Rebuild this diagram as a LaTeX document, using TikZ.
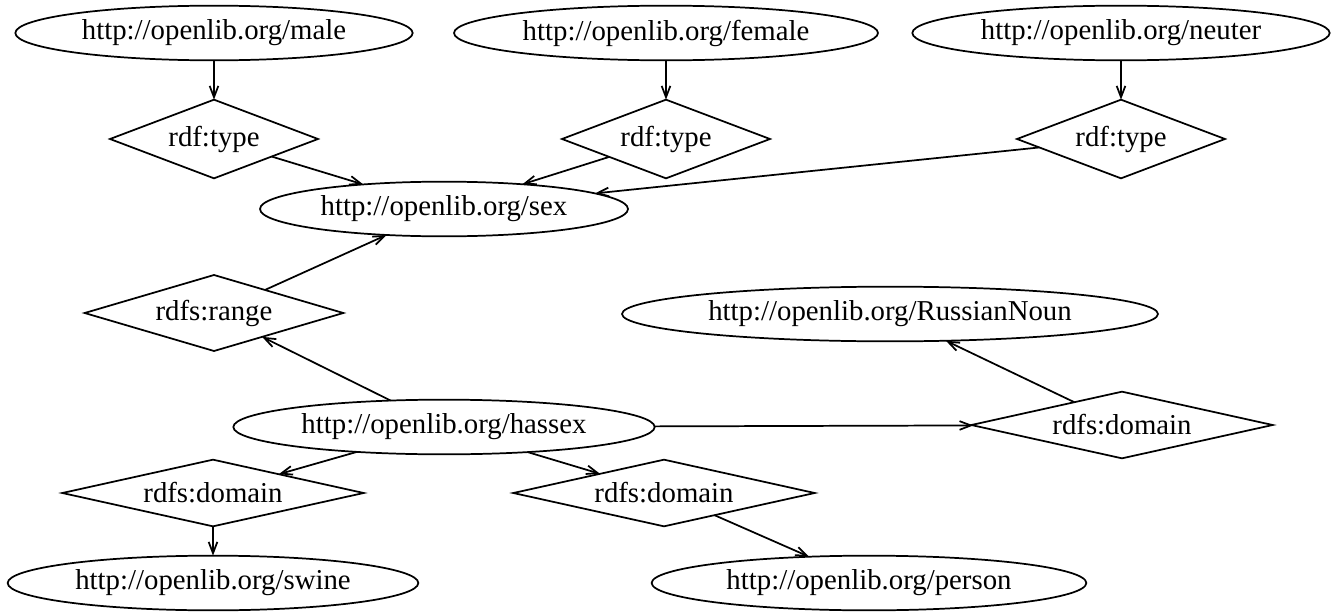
\documentclass[tikz,border=0pt]{standalone}
\usepackage{fontspec}
\setmainfont{Liberation Serif}
\usetikzlibrary{shapes.geometric,arrows.meta}
\tikzset{
  base/.style={draw=black, line width=1.3pt, inner sep=0pt, outer sep=0pt,
    font=\fontsize{21.6pt}{25pt}\selectfont},
  res/.style={base, ellipse, minimum height=41pt},
  prop/.style={base, diamond},
  conn/.style={line width=1.3pt, -{Straight Barb[length=8.5pt,width=6.5pt]}}
}
\begin{document}
\begin{tikzpicture}[x=0.75pt,y=-0.75pt]
\useasboundingbox (0,0) rectangle (1336,614);
% resources
\node[res, minimum width=298pt] (male)   at (214,33)  {http://openlib.org/male};
\node[res, minimum width=318pt] (female) at (666,33)  {http://openlib.org/female};
\node[res, minimum width=313pt] (neuter) at (1121,33) {http://openlib.org/neuter};
\node[res, minimum width=276pt] (sex)    at (444,209) {http://openlib.org/sex};
\node[res, minimum width=402pt] (rn)     at (890,314) {http://openlib.org/RussianNoun};
\node[res, minimum width=316pt] (hassex) at (444,427) {http://openlib.org/hassex};
\node[res, minimum width=308pt] (swine)  at (213,583) {http://openlib.org/swine};
\node[res, minimum width=326pt] (person) at (869,583) {http://openlib.org/person};
% properties
\node[prop, minimum width=156pt, minimum height=59pt, aspect=2.63] (t1) at (214,139)  {rdf:type};
\node[prop, minimum width=156pt, minimum height=59pt, aspect=2.63] (t2) at (666,139)  {rdf:type};
\node[prop, minimum width=156pt, minimum height=59pt, aspect=2.63] (t3) at (1121,139) {rdf:type};
\node[prop, minimum width=194pt, minimum height=57pt, aspect=3.4] (range) at (214,313) {rdfs:range};
\node[prop, minimum width=226pt, minimum height=50pt, aspect=4.56] (dR) at (1122,425) {rdfs:domain};
\node[prop, minimum width=226pt, minimum height=50pt, aspect=4.56] (dL) at (213,493)  {rdfs:domain};
\node[prop, minimum width=226pt, minimum height=50pt, aspect=4.56] (dM) at (664,493)  {rdfs:domain};
% connectors
\draw[conn] (male) -- (t1);
\draw[conn] (female) -- (t2);
\draw[conn] (neuter) -- (t3);
\draw[conn] (t1) -- (sex);
\draw[conn] (t2) -- (sex);
\draw[conn] (t3) -- (sex);
\draw[conn] (range) -- (sex);
\draw[conn] (hassex) -- (range);
\draw[conn] (hassex) -- (dR);
\draw[conn] (dR) -- (rn);
\draw[conn] (hassex) -- (dL);
\draw[conn] (hassex) -- (dM);
\draw[conn] (dL) -- (swine);
\draw[conn] (dM) -- (person);
\end{tikzpicture}
\end{document}
